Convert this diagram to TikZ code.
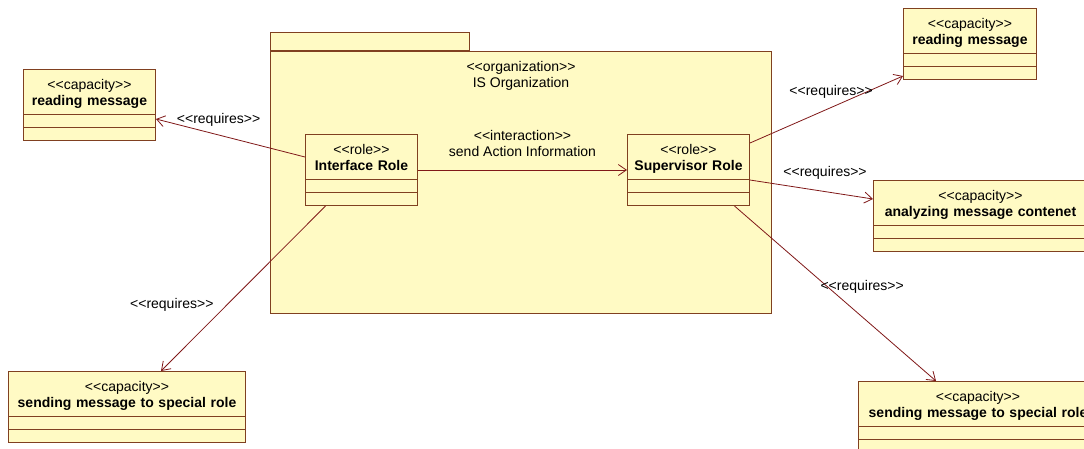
\documentclass[tikz,border=0pt]{standalone}
\usepackage{fontspec}
\setmainfont{Liberation Sans}
\usetikzlibrary{positioning,shapes.multipart,arrows.meta}

\definecolor{umlfill}{RGB}{255,250,196}
\definecolor{umlline}{RGB}{128,64,32}
\definecolor{reqline}{RGB}{128,24,24}
\newcommand{\stereo}[1]{<{}<#1>{}>}
\newcommand{\umlhead}[2]{\rule{0pt}{17pt}\stereo{#1}\\\textbf{#2}\rule[-7pt]{0pt}{7pt}}

\begin{document}
\begin{tikzpicture}[
  x=1pt, y=-1pt,
  box/.style={rectangle split, rectangle split parts=3, draw=umlline, fill=umlfill,
              line width=1pt, inner xsep=3pt, inner ysep=2pt, align=center,
              font=\fontsize{14}{16}\selectfont, anchor=north west},
  pkg/.style={draw=umlline, fill=umlfill, line width=1pt, inner sep=0pt},
  req/.style={-{Straight Barb[length=8pt,width=11pt]}, draw=reqline, line width=0.8pt},
  lbl/.style={font=\fontsize{14}{16}\selectfont, inner sep=1pt}
]
\useasboundingbox (0,0) rectangle (1084,448);
\clip (0,0) rectangle (1084,448);
\fill[white] (0,0) rectangle (1084,448);

% organization package
\node[pkg, minimum width=501pt, minimum height=262pt, anchor=north west] (org) at (270,51) {};
\node[pkg, minimum width=199pt, minimum height=18pt, anchor=south west] (orgtab) at (org.north west) {};
\node[lbl, align=center, below=9pt of org.north] (orgname) {\stereo{organization}\\IS Organization};

% roles
\node[box, text width=106pt] (irole) at (305,134)
  {\umlhead{role}{Interface Role} \nodepart{two}\rule{0pt}{8pt} \nodepart{three}\rule{0pt}{8pt}};
\node[box, text width=116pt] (srole) at (627,134)
  {\umlhead{role}{Supervisor Role} \nodepart{two}\rule{0pt}{8pt} \nodepart{three}\rule{0pt}{8pt}};

% capacities
\node[box, text width=126pt] (rmL) at (23,69)
  {\umlhead{capacity}{reading message} \nodepart{two}\rule{0pt}{8pt} \nodepart{three}\rule{0pt}{8pt}};
\node[box, text width=231pt] (smL) at (8,371)
  {\umlhead{capacity}{sending message to special role} \nodepart{two}\rule{0pt}{8pt} \nodepart{three}\rule{0pt}{8pt}};
\node[box, text width=127pt] (rmR) at (903,8)
  {\umlhead{capacity}{reading message} \nodepart{two}\rule{0pt}{8pt} \nodepart{three}\rule{0pt}{8pt}};
\node[box, text width=208pt] (anR) at (873,180)
  {\umlhead{capacity}{analyzing message contenet} \nodepart{two}\rule{0pt}{8pt} \nodepart{three}\rule{0pt}{8pt}};
\node[box, text width=233pt] (smR) at (858,381)
  {\umlhead{capacity}{sending message to special role} \nodepart{two}\rule{0pt}{8pt} \nodepart{three}\rule{0pt}{8pt}};

% connectors
\draw[req] (irole) -- node[lbl, align=center, above=12pt] (inter) {\stereo{interaction}\\send Action Information} (srole);
\draw[req] ([yshift=13pt]irole.west) -- node[lbl, pos=0.58, yshift=15pt] (reqa) {\stereo{requires}} ([yshift=-14pt]rmL.east);
\draw[req] ([xshift=-36pt]irole.south) -- node[lbl, pos=0.6, xshift=-55pt] (reqb) {\stereo{requires}} ([xshift=34pt]smL.north);
\draw[req] ([yshift=27pt]srole.east) -- node[lbl, pos=0.53, yshift=16pt] (reqc) {\stereo{requires}} ([yshift=-32pt]rmR.west);
\draw[req] ([yshift=-10pt]srole.east) -- node[lbl, pos=0.61, yshift=19pt] (reqd) {\stereo{requires}} ([yshift=17pt]anR.west);
\draw[req] ([xshift=46pt]srole.south) -- node[lbl, pos=0.46, xshift=35pt] (reqe) {\stereo{requires}} ([xshift=-42pt]smR.north);
\end{tikzpicture}
\end{document}
